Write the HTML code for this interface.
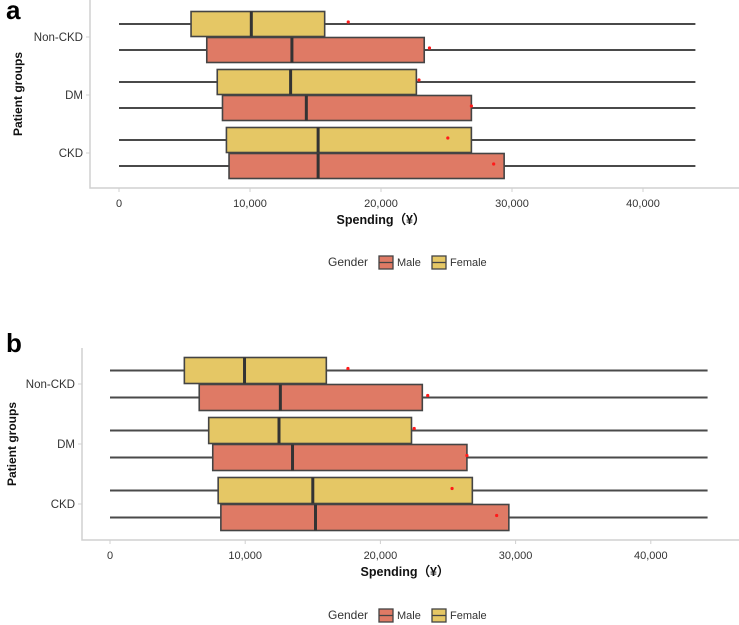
<!DOCTYPE html>
<html><head><meta charset="utf-8"><style>
html,body{margin:0;padding:0;background:#fff;}
svg{display:block;font-family:"Liberation Sans",Arial,sans-serif;}
</style></head><body>
<svg id="chart" width="739" height="625" viewBox="0 0 739 625"></svg>
<script>
const groups = ["Non-CKD","DM","CKD"];
const genders = ["Female","Male"];
const xTicks = [0,10000,20000,30000,40000];
const xTickLabels = ["0","10,000","20,000","30,000","40,000"];
// panel a: per group [female, male]
const aQ1 = [[5500,6700],[7500,7900],[8200,8400]];
const aMed = [[10100,13200],[13100,14300],[15200,15200]];
const aQ3 = [[15700,23300],[22700,26900],[26900,29400]];
const aMean = [[17500,23700],[22900,26900],[25100,28600]];
const aMin = [[0,0],[0,0],[0,0]];
const aMax = [[44000,44000],[44000,44000],[44000,44000]];
// panel b
const bQ1 = [[5500,6600],[7300,7600],[8000,8200]];
const bMed = [[9950,12600],[12500,13500],[15000,15200]];
const bQ3 = [[16000,23100],[22300,26400],[26800,29500]];
const bMean = [[17600,23500],[22500,26400],[25300,28600]];
const bMin = [[0,0],[0,0],[0,0]];
const bMax = [[44200,44200],[44200,44200],[44200,44200]];

const NS="http://www.w3.org/2000/svg";
const svg=document.getElementById('chart');
const colors={Female:"#E5C765",Male:"#DF7A65"};
function mk(tag,attrs,parent){const e=document.createElementNS(NS,tag);for(const k in attrs)e.setAttribute(k,attrs[k]);(parent||svg).appendChild(e);return e;}

function panel(cfg,q1,med,q3,mean,mn,mx){
  const g=mk('g',{});
  
  
  const x=v=>cfg.x0+v*cfg.k;
  const lab=mk('text',{x:cfg.labX,y:cfg.labY,'font-size':26,'font-weight':'bold',fill:'#000'},g);
  lab.textContent=cfg.id;
  
  
  const ax=mk('path',{d:`M${cfg.left},${cfg.top} V${cfg.bottom} H739`,stroke:'#d0d0d0','stroke-width':1.5,fill:'none'},g);
  
  
  xTicks.forEach((t,i)=>{
    mk('line',{x1:x(t),x2:x(t),y1:cfg.bottom,y2:cfg.bottom+4,stroke:'#d0d0d0'},g);
    const tx=mk('text',{x:x(t),y:cfg.bottom+19,'text-anchor':'middle','font-size':11,fill:'#333'},g);
    tx.textContent=xTickLabels[i];
    
    
  });
  groups.forEach((gr,gi)=>{
    const ty=mk('text',{x:cfg.left-7,y:cfg.catY[gi]+4,'text-anchor':'end','font-size':11.5,fill:'#333'},g);
    ty.textContent=gr;
    
    
    mk('line',{x1:cfg.left-4,x2:cfg.left,y1:cfg.catY[gi],y2:cfg.catY[gi],stroke:'#d0d0d0'},g);
    genders.forEach((gd,si)=>{
      const cy=cfg.catY[gi]+(si===0?-cfg.off:cfg.off);
      const h=cfg.bh;
      const w=mk('line',{x1:x(mn[gi][si]),x2:x(mx[gi][si]),y1:cy,y2:cy,stroke:'#4a4a4a','stroke-width':2},g);
      
      
      const r=mk('rect',{x:x(q1[gi][si]),y:cy-h/2,width:x(q3[gi][si])-x(q1[gi][si]),height:h,fill:colors[gd],stroke:'#444','stroke-width':1.6},g);
      
      
      const m=mk('line',{x1:x(med[gi][si]),x2:x(med[gi][si]),y1:cy-h/2,y2:cy+h/2,stroke:'#333','stroke-width':3},g);
      
      
      const d=mk('circle',{cx:x(mean[gi][si]),cy:cy-2,r:1.6,fill:'#ff1a1a'},g);
      
      
    });
  });
  const yt=mk('text',{transform:`translate(${cfg.ytX},${(cfg.top+cfg.bottom)/2}) rotate(-90)`,'text-anchor':'middle','font-size':12,'font-weight':'bold',fill:'#111'},g);
  yt.textContent='Patient groups';
  
  
  const xt=mk('text',{x:cfg.xtX,y:cfg.bottom+36,'text-anchor':'middle','font-size':12.5,'font-weight':'bold',fill:'#111'},g);
  xt.textContent='Spending（¥）';
  
  
  const lg=mk('g',{},g);
  
  
  const gt=mk('text',{x:cfg.legX,y:cfg.legY+4,'font-size':12,fill:'#333'},lg);
  gt.textContent='Gender';
  const ents=[["Male",cfg.legX+51,"Male"],["Female",cfg.legX+104,"Female"]];
  ents.forEach(e=>{
    const eg=mk('g',{},lg);
    
    
    mk('rect',{x:e[1],y:cfg.legY-6,width:14,height:13,fill:colors[e[0]],stroke:'#444','stroke-width':1.3},eg);
    mk('line',{x1:e[1],x2:e[1]+14,y1:cfg.legY+0.5,y2:cfg.legY+0.5,stroke:'#444','stroke-width':1.3},eg);
    const t=mk('text',{x:e[1]+18,y:cfg.legY+4,'font-size':11,fill:'#333'},eg);
    t.textContent=e[2];
  });
}
panel({id:'a',x0:119,k:0.0131,left:90,top:0,bottom:188,catY:[37,95,153],off:13,bh:25,labX:6,labY:19,ytX:22,xtX:381,legX:328,legY:262},aQ1,aMed,aQ3,aMean,aMin,aMax);
panel({id:'b',x0:110,k:0.01352,left:82,top:348,bottom:540,catY:[384,444,504],off:13.5,bh:26,labX:6,labY:352,ytX:16,xtX:405,legX:328,legY:615},bQ1,bMed,bQ3,bMean,bMin,bMax);
</script>
</body></html>
